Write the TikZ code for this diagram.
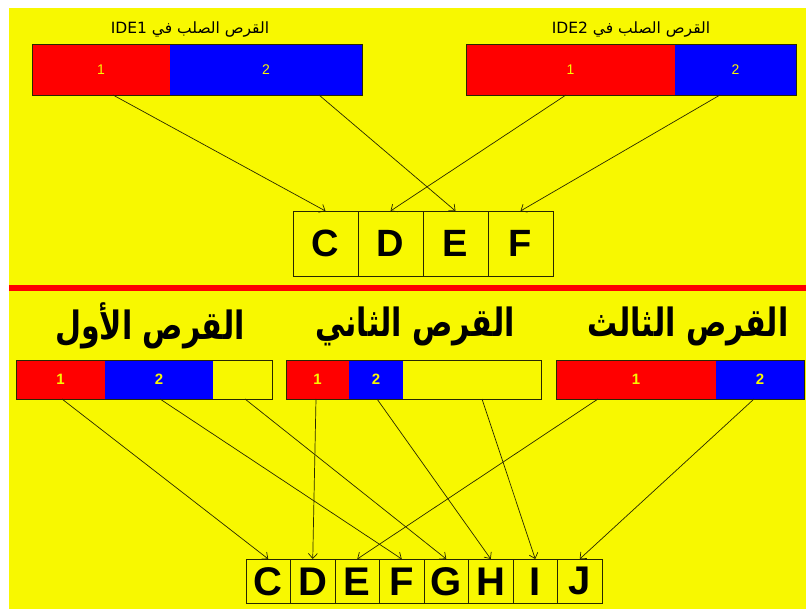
\documentclass[tikz,border=0pt]{standalone}
\usepackage{fontspec}
\setmainfont{Liberation Sans}
\newfontfamily\arabicfont[Script=Arabic]{DejaVu Sans}
\TeXXeTstate=1
\usetikzlibrary{arrows.meta,positioning}
\definecolor{bgY}{RGB}{248,248,0}
\definecolor{partR}{RGB}{255,0,0}
\definecolor{partB}{RGB}{0,0,255}
\definecolor{edgeC}{RGB}{40,40,0}
\newcommand{\tallrtl}[1]{\scalebox{1}[1.3]{\beginR #1\endR}}
\tikzset{
  part/.style={rectangle, fill=#1, anchor=north west, inner sep=0pt, outer sep=0pt, text=bgY},
  hdpart/.style={part=#1, minimum height=51pt, font=\fontsize{14}{14}\selectfont},
  dkpart/.style={part=#1, minimum height=39pt, font=\fontsize{15}{15}\selectfont\bfseries},
  frame/.style={draw=edgeC, line width=0.9pt},
  lettbox/.style={rectangle, draw=edgeC, line width=0.9pt, inner sep=0pt, outer sep=0pt,
                  minimum width=#1, minimum height=#1, font=\bfseries},
  hdlabel/.style={font=\arabicfont\fontsize{15.5}{15.5}\selectfont},
  dklabel/.style={font=\arabicfont\fontsize{30}{30}\selectfont\bfseries},
  link/.style={-{Straight Barb[length=5pt,width=9pt]}, line width=0.7pt, draw=edgeC},
}
\begin{document}
\begin{tikzpicture}[x=1pt, y=-1pt]
    \useasboundingbox (0,0) rectangle (806,609);
    \fill[bgY] (9,8) rectangle (806,609);
    \draw[partR, line width=6pt] (9,288) -- (806,288);

    \node[hdlabel] (lab1) at (190,30) {\beginR القرص الصلب في \beginL IDE1\endL\endR};
    \node[hdlabel] (lab2) at (631,30) {\beginR القرص الصلب في \beginL IDE2\endL\endR};
    \node[hdpart=partR, minimum width=138pt] (h1a) at (32,44) {1};
    \node[hdpart=partB, minimum width=192pt] (h1b) at (170,44) {2};
    \node[hdpart=partR, minimum width=209pt] (h2a) at (466,44) {1};
    \node[hdpart=partB, minimum width=121pt] (h2b) at (675,44) {2};
    \draw[frame] (h1a.north west) rectangle (h1b.south east);
    \draw[frame] (h2a.north west) rectangle (h2b.south east);

    \node[lettbox=65pt, anchor=north west, font=\fontsize{38}{38}\selectfont\bfseries] (c1) at (293,211) {C};
    \node[lettbox=65pt, right=0pt of c1, font=\fontsize{38}{38}\selectfont\bfseries] (d1) {D};
    \node[lettbox=65pt, right=0pt of d1, font=\fontsize{38}{38}\selectfont\bfseries] (e1) {E};
    \node[lettbox=65pt, right=0pt of e1, font=\fontsize{38}{38}\selectfont\bfseries] (f1) {F};

    \draw[link] ([xshift=12pt]h1a.south) -- (c1.north);
    \draw[link] ([xshift=53pt]h1b.south) -- (e1.north);
    \draw[link] ([xshift=-4.5pt]h2a.south) -- (d1.north);
    \draw[link] ([xshift=-15.5pt]h2b.south) -- (f1.north);

    \node[dklabel] (tA) at (150,326) {\tallrtl{القرص الأول}};
    \node[dklabel] (tB) at (415,326) {\tallrtl{القرص الثاني}};
    \node[dklabel] (tC) at (688,326) {\tallrtl{القرص الثالث}};

    \node[dkpart=partR, minimum width=89pt] (b1a) at (16,360) {1};
    \node[dkpart=partB, minimum width=108pt] (b1b) at (105,360) {2};
    \node[dkpart=bgY, minimum width=59pt] (b1c) at (213,360) {};
    \node[dkpart=partR, minimum width=63pt] (b2a) at (286,360) {1};
    \node[dkpart=partB, minimum width=54pt] (b2b) at (349,360) {2};
    \node[dkpart=bgY, minimum width=138pt] (b2c) at (403,360) {};
    \node[dkpart=partR, minimum width=160pt] (b3a) at (556,360) {1};
    \node[dkpart=partB, minimum width=88pt] (b3b) at (716,360) {2};
    \draw[frame] (b1a.north west) rectangle (b1c.south east);
    \draw[frame] (b2a.north west) rectangle (b2c.south east);
    \draw[frame] (b3a.north west) rectangle (b3b.south east);

    \node[lettbox=44.5pt, anchor=north west, font=\fontsize{40}{40}\selectfont\bfseries] (c2) at (246,559) {C};
    \node[lettbox=44.5pt, right=0pt of c2, font=\fontsize{40}{40}\selectfont\bfseries] (d2) {D};
    \node[lettbox=44.5pt, right=0pt of d2, font=\fontsize{40}{40}\selectfont\bfseries] (e2) {E};
    \node[lettbox=44.5pt, right=0pt of e2, font=\fontsize{40}{40}\selectfont\bfseries] (f2) {F};
    \node[lettbox=44.5pt, right=0pt of f2, font=\fontsize{40}{40}\selectfont\bfseries] (g2) {G};
    \node[lettbox=44.5pt, right=0pt of g2, font=\fontsize{40}{40}\selectfont\bfseries] (h2) {H};
    \node[lettbox=44.5pt, right=0pt of h2, font=\fontsize{40}{40}\selectfont\bfseries] (i2) {I};
    \node[lettbox=44.5pt, right=0pt of i2, font=\fontsize{40}{40}\selectfont\bfseries] (j2) {J};

    \draw[link] ([xshift=1.5pt]b1a.south) -- (c2.north);
    \draw[link] ([xshift=1pt]b1b.south) -- (f2.north);
    \draw[link] ([xshift=2.5pt]b1c.south) -- (g2.north);
    \draw[link] ([xshift=-1.5pt]b2a.south) -- (d2.north);
    \draw[link] ([xshift=1pt]b2b.south) -- (h2.north);
    \draw[link] ([xshift=10pt]b2c.south) -- (i2.north);
    \draw[link] ([xshift=-38pt]b3a.south) -- (e2.north);
    \draw[link] ([xshift=-6pt]b3b.south) -- (j2.north);
  \end{tikzpicture}
\end{document}
